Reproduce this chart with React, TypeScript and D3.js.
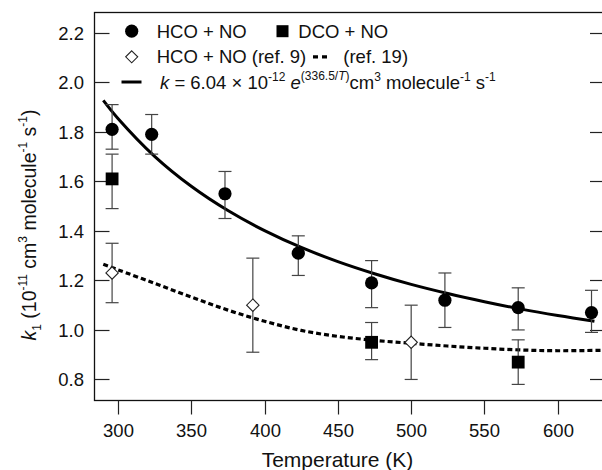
import React, { useEffect, useRef } from "react";
import * as d3 from "d3";

// HCO + NO (this work)
const hcoT = [296, 323, 373, 423, 473, 523, 573, 623];
const hcoK = [1.81, 1.79, 1.55, 1.31, 1.19, 1.12, 1.09, 1.07];
const hcoLo = [1.73, 1.71, 1.45, 1.22, 1.09, 1.01, 1.0, 0.99];
const hcoHi = [1.91, 1.87, 1.64, 1.38, 1.28, 1.23, 1.17, 1.16];

// DCO + NO
const dcoT = [296, 473, 573];
const dcoK = [1.61, 0.95, 0.87];
const dcoLo = [1.49, 0.88, 0.78];
const dcoHi = [1.71, 1.03, 0.96];

// HCO + NO (ref. 9)
const ref9T = [296, 392, 500];
const ref9K = [1.23, 1.1, 0.95];
const ref9Lo = [1.11, 0.91, 0.8];
const ref9Hi = [1.35, 1.29, 1.1];

// Arrhenius fit (solid)
const fitT = [290, 300, 325, 350, 375, 400, 425, 450, 475, 500, 525, 550, 575, 600, 625];
const fitK = [1.927, 1.854, 1.701, 1.58, 1.482, 1.401, 1.333, 1.276, 1.227, 1.184, 1.147, 1.114, 1.084, 1.058, 1.035];

// ref. 19 (dashed)
const r19T = [290, 300, 325, 350, 375, 400, 425, 450, 475, 500, 525, 550, 575, 600, 632];
const r19K = [1.265, 1.243, 1.188, 1.133, 1.08, 1.035, 0.998, 0.974, 0.958, 0.946, 0.935, 0.926, 0.919, 0.916, 0.918];

const xTicks = [300, 350, 400, 450, 500, 550, 600];
const yTicks = [0.8, 1.0, 1.2, 1.4, 1.6, 1.8, 2.0, 2.2];

const W = 602;
const H = 470;
const FONT = "'Liberation Sans', Arial, sans-serif";

export default function App() {
  const svgRef = useRef<SVGSVGElement>(null);

  useEffect(() => {
    const svg = d3.select(svgRef.current);
    svg.selectAll("*").remove();

    const left = 94.5, right = 605, top = 12.5, bottom = 400.5;
    const x = d3.scaleLinear().domain([284, 632.2]).range([left, right]);
    const y = d3.scaleLinear().domain([0.715, 2.282]).range([bottom, top]);

    // frame
    svg.append("rect")
      .attr("x", left).attr("y", top)
      .attr("width", right - left).attr("height", bottom - top)
      .attr("fill", "none").attr("stroke", "#111").attr("stroke-width", 1.3);

    // x axis ticks (outside)
    const xAxis = svg.append("g");
    xTicks.forEach((t) => {
      const px = Math.round(x(t)) + 0.5;
      xAxis.append("line").attr("x1", px).attr("x2", px)
        .attr("y1", bottom).attr("y2", bottom + 14)
        .attr("stroke", "#222").attr("stroke-width", 1.2);
      xAxis.append("text").attr("x", px).attr("y", 436.5)
        .attr("text-anchor", "middle").attr("font-size", 18.5)
        .attr("font-family", FONT).attr("fill", "#111").text(t);
    });

    // y axis ticks (inside, both sides)
    const yAxis = svg.append("g");
    yTicks.forEach((t) => {
      const py = Math.round(y(t)) + 0.5;
      yAxis.append("line").attr("x1", left).attr("x2", left + 15)
        .attr("y1", py).attr("y2", py).attr("stroke", "#222").attr("stroke-width", 1.2);
      yAxis.append("line").attr("x1", right - 15).attr("x2", right)
        .attr("y1", py).attr("y2", py).attr("stroke", "#222").attr("stroke-width", 1.2);
      yAxis.append("text").attr("x", 84).attr("y", py + 6.5)
        .attr("text-anchor", "end").attr("font-size", 18.5)
        .attr("font-family", FONT).attr("fill", "#111").text(t.toFixed(1));
    });

    // axis titles
    svg.append("text").attr("x", 337.5).attr("y", 467)
      .attr("text-anchor", "middle").attr("font-size", 21)
      .attr("font-family", FONT).attr("fill", "#111").text("Temperature (K)");

    const yl = svg.append("text")
      .attr("transform", `translate(36,225) rotate(-90)`)
      .attr("text-anchor", "middle").attr("font-size", 19.5)
      .attr("font-family", FONT).attr("fill", "#111");
    yl.append("tspan").attr("font-style", "italic").text("k");
    yl.append("tspan").attr("font-size", 12).attr("dy", 5).text("1");
    yl.append("tspan").attr("dy", -5).text(" (10");
    yl.append("tspan").attr("font-size", 12).attr("dy", -9).text("-11");
    yl.append("tspan").attr("dy", 9).text(" cm");
    yl.append("tspan").attr("font-size", 12).attr("dy", -9).text("3");
    yl.append("tspan").attr("dy", 9).text(" molecule");
    yl.append("tspan").attr("font-size", 12).attr("dy", -9).text("-1");
    yl.append("tspan").attr("dy", 9).text(" s");
    yl.append("tspan").attr("font-size", 12).attr("dy", -9).text("-1");
    yl.append("tspan").attr("dy", 9).text(")");

    const plot = svg.append("g");

    const line = d3.line<[number, number]>()
      .x((d) => x(d[0])).y((d) => y(d[1]))
      .curve(d3.curveCatmullRom);

    plot.append("path")
      .attr("d", line(r19T.map((t, i) => [t, r19K[i]] as [number, number])))
      .attr("fill", "none").attr("stroke", "#000").attr("stroke-width", 3.2)
      .attr("stroke-dasharray", "5,3");

    plot.append("path")
      .attr("d", line(fitT.map((t, i) => [t, fitK[i]] as [number, number])))
      .attr("fill", "none").attr("stroke", "#000").attr("stroke-width", 3);

    // error bars
    const errBars = (T: number[], lo: number[], hi: number[]) => {
      T.forEach((t, i) => {
        const px = x(t);
        const g = plot.append("g").attr("stroke", "#444").attr("stroke-width", 1.2);
        g.append("line").attr("x1", px).attr("x2", px).attr("y1", y(lo[i])).attr("y2", y(hi[i]));
        [lo[i], hi[i]].forEach((v) => {
          g.append("line").attr("x1", px - 6.5).attr("x2", px + 6.5)
            .attr("y1", y(v)).attr("y2", y(v));
        });
      });
    };
    errBars(hcoT, hcoLo, hcoHi);
    errBars(dcoT, dcoLo, dcoHi);
    errBars(ref9T, ref9Lo, ref9Hi);

    // markers
    hcoT.forEach((t, i) => {
      plot.append("circle").attr("cx", x(t)).attr("cy", y(hcoK[i])).attr("r", 6.6).attr("fill", "#000");
    });
    dcoT.forEach((t, i) => {
      plot.append("rect").attr("x", x(t) - 6.4).attr("y", y(dcoK[i]) - 6.4)
        .attr("width", 12.8).attr("height", 12.8).attr("fill", "#000");
    });
    const diamond = (cx: number, cy: number, r: number) =>
      `M${cx},${cy - r}L${cx + r},${cy}L${cx},${cy + r}L${cx - r},${cy}Z`;
    ref9T.forEach((t, i) => {
      plot.append("path").attr("d", diamond(x(t), y(ref9K[i]), 6.2))
        .attr("fill", "#fff").attr("stroke", "#222").attr("stroke-width", 1.1);
    });

    // legend
    const lg = svg.append("g").attr("font-family", FONT).attr("font-size", 18.5).attr("fill", "#111");
    const r1 = 38, r2 = 63.3, r3 = 88.5;
    lg.append("circle").attr("cx", 131.7).attr("cy", r1 - 6.8).attr("r", 6.6).attr("fill", "#000");
    lg.append("text").attr("x", 156.7).attr("y", r1).text("HCO + NO");
    lg.append("rect").attr("x", 276.5).attr("y", r1 - 12.8).attr("width", 12).attr("height", 12).attr("fill", "#000");
    lg.append("text").attr("x", 298.3).attr("y", r1).text("DCO + NO");
    lg.append("path").attr("d", diamond(131.7, r2 - 6.5, 6)).attr("fill", "#fff").attr("stroke", "#222").attr("stroke-width", 1.1);
    lg.append("text").attr("x", 156.7).attr("y", r2).text("HCO + NO (ref. 9)");
    lg.append("line").attr("x1", 313).attr("x2", 327).attr("y1", r2 - 6.5).attr("y2", r2 - 6.5)
      .attr("stroke", "#000").attr("stroke-width", 3.2).attr("stroke-dasharray", "5,4");
    lg.append("text").attr("x", 343.3).attr("y", r2).text("(ref. 19)");
    lg.append("line").attr("x1", 121.5).attr("x2", 141.5).attr("y1", r3 - 6.5).attr("y2", r3 - 6.5)
      .attr("stroke", "#000").attr("stroke-width", 3);
    const ft = lg.append("text").attr("x", 160).attr("y", r3);
    ft.append("tspan").attr("font-style", "italic").text("k");
    ft.append("tspan").text(" = 6.04 \u00d7 10");
    ft.append("tspan").attr("font-size", 12).attr("dy", -8).text("-12");
    ft.append("tspan").attr("dy", 8).attr("font-style", "italic").text(" e");
    ft.append("tspan").attr("font-size", 12).attr("dy", -9).text("(336.5/");
    ft.append("tspan").attr("font-size", 12).attr("font-style", "italic").text("T");
    ft.append("tspan").attr("font-size", 12).text(")");
    ft.append("tspan").attr("dy", 9).text("cm");
    ft.append("tspan").attr("font-size", 12).attr("dy", -8).text("3");
    ft.append("tspan").attr("dy", 8).text(" molecule");
    ft.append("tspan").attr("font-size", 12).attr("dy", -8).text("-1");
    ft.append("tspan").attr("dy", 8).text(" s");
    ft.append("tspan").attr("font-size", 12).attr("dy", -8).text("-1");
  }, []);

  return (
    <svg
      ref={svgRef}
      width={W}
      height={H}
      style={{ position: "absolute", left: 0, top: 0, background: "#fff" }}
    />
  );
}
